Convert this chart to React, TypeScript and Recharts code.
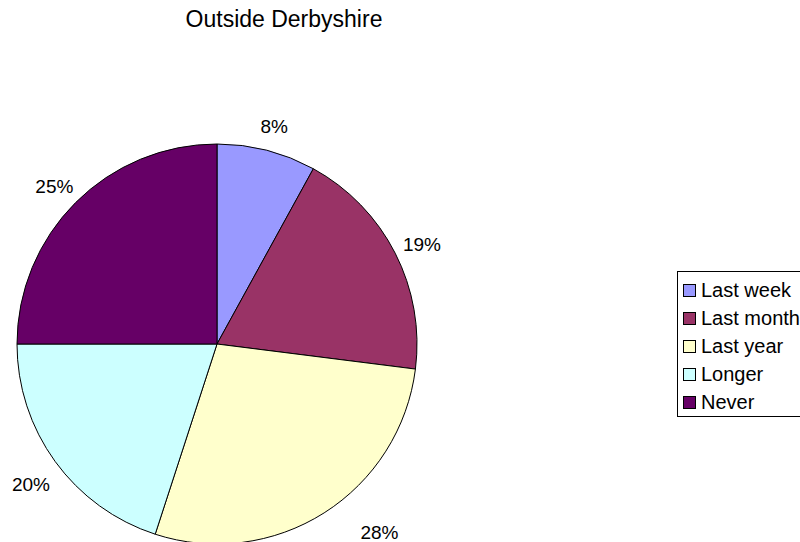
import React from "react";
import { PieChart, Pie, Cell, Legend } from "recharts";

// share of respondents, outside Derbyshire (percent)
const categories = ["Last week", "Last month", "Last year", "Longer", "Never"];
const values = [8, 19, 28, 20, 25];
const colors = ["#9999FF", "#993366", "#FFFFCC", "#CCFFFF", "#660066"];

const data = categories.map((name, i) => ({ name, value: values[i] }));

const FONT = "'Liberation Sans', Arial, sans-serif";
const RADIAN = Math.PI / 180;
const HEIGHT = 542;

// percent labels outside the pie, kept inside the chart area
const renderLabel = (props: any) => {
  const { cx, cy, midAngle, outerRadius, percent } = props;
  const r = outerRadius + 30;
  let x = cx + r * Math.cos(-midAngle * RADIAN);
  let y = cy + r * Math.sin(-midAngle * RADIAN) + 5;
  const maxY = HEIGHT - 10;
  if (y > maxY) {
    // slide sideways when it would fall off the bottom
    x += (y - maxY) * 3.5;
    y = maxY;
  }
  return (
    <text
      x={x}
      y={y}
      textAnchor="middle"
      dominantBaseline="central"
      fontFamily={FONT}
      fontSize={19}
      fill="#000"
    >
      {`${Math.round(percent * 100)}%`}
    </text>
  );
};

// boxed legend like the spreadsheet one
const renderLegend = () => (
  <div
    style={{
      border: "1px solid #000",
      background: "#fff",
      width: 140,
      padding: "4px 0 0 5px",
      fontFamily: FONT,
      fontSize: 20,
      color: "#000",
    }}
  >
    {categories.map((c, i) => (
      <div key={c} style={{ display: "flex", alignItems: "center", height: 28 }}>
        <span
          style={{
            display: "inline-block",
            width: 11,
            height: 11,
            border: "1px solid #000",
            background: colors[i],
            marginRight: 5,
          }}
        />
        <span style={{ whiteSpace: "nowrap" }}>{c}</span>
      </div>
    ))}
  </div>
);

export default function App() {
  return (
    <div
      style={{
        position: "absolute",
        left: 0,
        top: 0,
        width: 800,
        height: HEIGHT,
        overflow: "hidden",
        background: "#fff",
      }}
    >
      <div
        style={{
          position: "absolute",
          left: 0,
          top: 6,
          width: 568,
          textAlign: "center",
          fontFamily: FONT,
          fontSize: 23,
          color: "#000",
        }}
      >
        Outside Derbyshire
      </div>
      <PieChart width={800} height={HEIGHT} margin={{ top: 0, right: 0, bottom: 0, left: 0 }}>
        <Pie
          data={data}
          dataKey="value"
          nameKey="name"
          cx={217}
          cy={344}
          outerRadius={200}
          startAngle={90}
          endAngle={-270}
          stroke="#000"
          strokeWidth={1}
          label={renderLabel}
          labelLine={false}
          isAnimationActive={false}
        >
          {data.map((d, i) => (
            <Cell key={d.name} fill={colors[i]} />
          ))}
        </Pie>
        <Legend
          layout="vertical"
          align="right"
          verticalAlign="middle"
          content={renderLegend}
          wrapperStyle={{ left: 677, top: 271, width: 140 }}
        />
      </PieChart>
    </div>
  );
}
